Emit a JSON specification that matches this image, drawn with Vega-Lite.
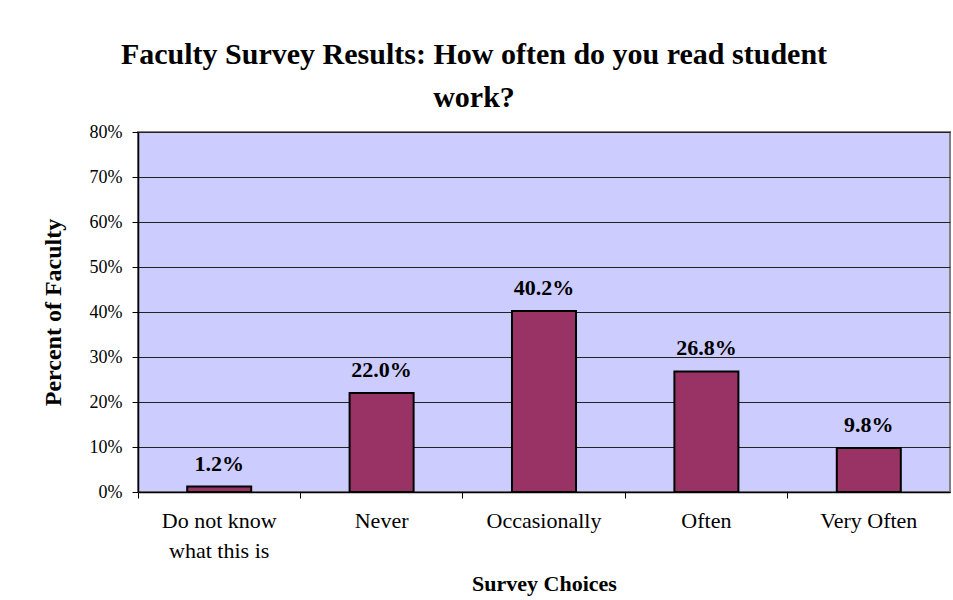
{
  "$schema": "https://vega.github.io/schema/vega-lite/v6.json",
  "width": 812,
  "height": 360,
  "autosize": {"type": "none"},
  "padding": {"left": 138, "top": 132, "right": 3, "bottom": 108},
  "background": "white",
  "title": {
    "text": ["Faculty Survey Results: How often do you read student", "work?"],
    "font": "Liberation Serif",
    "fontSize": 30,
    "fontWeight": "bold",
    "color": "black",
    "anchor": "middle",
    "dx": -70,
    "offset": 10,
    "lineHeight": 43
  },
  "data": {
    "values": [
      {"choice": "Do not know what this is", "pct": 0.012, "label": "1.2%"},
      {"choice": "Never", "pct": 0.22, "label": "22.0%"},
      {"choice": "Occasionally", "pct": 0.402, "label": "40.2%"},
      {"choice": "Often", "pct": 0.268, "label": "26.8%"},
      {"choice": "Very Often", "pct": 0.098, "label": "9.8%"}
    ]
  },
  "encoding": {
    "x": {
      "field": "choice",
      "type": "nominal",
      "sort": null,
      "scale": {"paddingInner": 0, "paddingOuter": 0},
      "axis": {
        "title": "Survey Choices",
        "titleFont": "Liberation Serif",
        "titleFontSize": 22,
        "titleFontWeight": "bold",
        "titleColor": "black",
        "titlePadding": 12,
        "labelFont": "Liberation Serif",
        "labelFontSize": 22,
        "labelColor": "black",
        "labelAngle": 0,
        "labelPadding": 12,
        "labelLineHeight": 30,
        "labelExpr": "datum.value == 'Do not know what this is' ? ['Do not know', 'what this is'] : datum.value",
        "bandPosition": 0,
        "tickSize": 6,
        "tickColor": "black",
        "domainColor": "black",
        "domainWidth": 1.5,
        "grid": false
      }
    },
    "y": {
      "field": "pct",
      "type": "quantitative",
      "scale": {"domain": [0, 0.8], "nice": false},
      "axis": {
        "title": "Percent of Faculty",
        "titleFont": "Liberation Serif",
        "titleFontSize": 24,
        "titleFontWeight": "bold",
        "titleColor": "black",
        "titlePadding": 24,
        "labelFont": "Liberation Serif",
        "labelFontSize": 18,
        "labelColor": "black",
        "labelPadding": 10,
        "format": ".0%",
        "values": [0, 0.1, 0.2, 0.3, 0.4, 0.5, 0.6, 0.7, 0.8],
        "tickSize": 6,
        "tickColor": "black",
        "domainColor": "black",
        "domainWidth": 1.5,
        "grid": true,
        "gridColor": "#222222",
        "gridWidth": 1
      }
    }
  },
  "layer": [
    {
      "mark": {"type": "bar", "size": 64, "color": "#993366", "stroke": "black", "strokeWidth": 2}
    },
    {
      "mark": {"type": "text", "font": "Liberation Serif", "fontSize": 22, "fontWeight": "bold", "color": "black", "baseline": "alphabetic", "dy": -16},
      "encoding": {"text": {"field": "label"}}
    }
  ],
  "config": {
    "view": {"fill": "#CCCCFF", "stroke": "#808080", "strokeWidth": 2}
  }
}
